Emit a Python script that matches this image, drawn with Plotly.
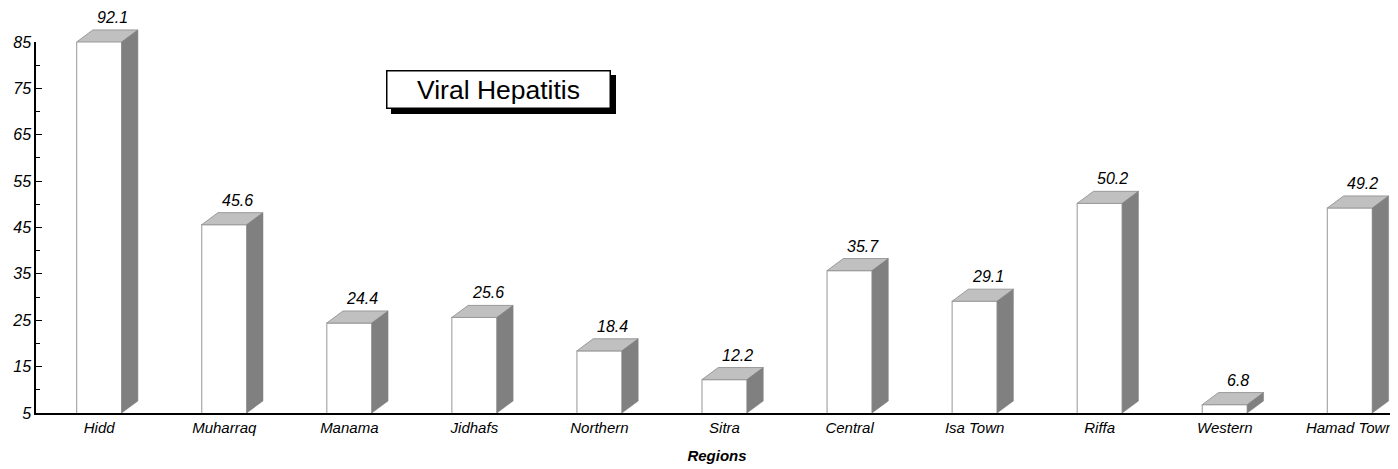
"""3D-style bar chart: viral hepatitis rates by region."""

import plotly.graph_objects as go

REGIONS = [
    "Hidd", "Muharraq", "Manama", "Jidhafs", "Northern", "Sitra",
    "Central", "Isa Town", "Riffa", "Western", "Hamad Town",
]
RATES = [92.1, 45.6, 24.4, 25.6, 18.4, 12.2, 35.7, 29.1, 50.2, 6.8, 49.2]
Y_MIN, Y_MAX = 5, 85
Y_TICKS = list(range(5, 86, 10))

# geometry of the fake 3D boxes (data units)
BAR_W = 0.36
DEPTH_X = 0.13
DEPTH_Y = 2.6

# the page body has an 8px margin, so the figure is a bit smaller than the window
W, H = 1390, 461
M_L, M_R, M_T, M_B = 28, 0, 0, 56
AXIS_TOP_PX = 34  # where the visible y axis stops (figure px from top)

plot_h = H - M_T - M_B
y_frac = (H - M_B - AXIS_TOP_PX) / plot_h
# invisible full-height axis with the same scale, so the box tops can rise above 85
y2_max = Y_MIN + (Y_MAX - Y_MIN) / y_frac

FONT = "Liberation Sans, Arial, sans-serif"
idx = list(range(len(REGIONS)))
tops = [min(v, Y_MAX) for v in RATES]

fig = go.Figure()

fig.add_trace(
    go.Bar(
        x=idx,
        y=RATES,
        width=BAR_W,
        marker=dict(color="white", line=dict(color="#a8a8a8", width=1.2)),
        hoverinfo="skip",
        showlegend=False,
    )
)
fig.add_trace(
    go.Scatter(
        x=idx, y=tops, yaxis="y2", mode="markers",
        marker=dict(opacity=0), hoverinfo="skip", showlegend=False,
    )
)

for i, (v, h) in enumerate(zip(RATES, tops)):
    xl, xr = i - BAR_W / 2, i + BAR_W / 2
    # top face
    fig.add_shape(
        type="path", xref="x", yref="y2",
        path=(f"M {xl},{h} L {xl + DEPTH_X},{h + DEPTH_Y} "
              f"L {xr + DEPTH_X},{h + DEPTH_Y} L {xr},{h} Z"),
        fillcolor="#c0c0c0", line=dict(color="#9a9a9a", width=1),
    )
    # side face
    fig.add_shape(
        type="path", xref="x", yref="y2",
        path=(f"M {xr},{Y_MIN} L {xr + DEPTH_X},{Y_MIN + DEPTH_Y} "
              f"L {xr + DEPTH_X},{h + DEPTH_Y} L {xr},{h} Z"),
        fillcolor="#808080", line=dict(color="#808080", width=0.5),
    )
    fig.add_annotation(
        x=i + DEPTH_X / 2, y=h + DEPTH_Y, xref="x", yref="y2",
        text=f"{v:.1f}", showarrow=False, yanchor="bottom",
        xshift=5, yshift=2,
        font=dict(family=FONT, size=16, color="black", style="italic"),
    )

# title box with drop shadow
title_x, title_y = 0.3396, 0.7988
for shadow in (True, False):
    fig.add_annotation(
        x=title_x, y=title_y, xref="paper", yref="paper",
        xanchor="center", yanchor="middle",
        text="Viral Hepatitis", showarrow=False,
        width=220, height=34, borderpad=1, borderwidth=1.5,
        bordercolor="black",
        bgcolor="black" if shadow else "white",
        xshift=5 if shadow else 0, yshift=-5 if shadow else 0,
        font=dict(family=FONT, size=26.5, color="black"),
    )

fig.update_layout(
    width=W, height=H,
    margin=dict(l=M_L, r=M_R, t=M_T, b=M_B, autoexpand=False),
    paper_bgcolor="white", plot_bgcolor="rgba(0,0,0,0)",
    showlegend=False, hovermode=False,
    xaxis=dict(
        range=[-0.505, 10.385], automargin=False,
        tickvals=idx, ticktext=REGIONS,
        tickfont=dict(family=FONT, size=15, color="black", style="italic"),
        showline=True, linecolor="black", linewidth=1.5,
        showgrid=False, zeroline=False, ticks="",
        title=dict(
            text="Regions", standoff=16,
            font=dict(family=FONT, size=15, color="black",
                      style="italic", weight="bold"),
        ),
    ),
    yaxis=dict(
        domain=[0, y_frac], range=[Y_MIN, Y_MAX], automargin=False,
        tickvals=Y_TICKS, ticks="inside", ticklen=6, tickwidth=1,
        tickcolor="black",
        minor=dict(ticks="inside", ticklen=4, tick0=0, dtick=10,
                   tickcolor="black"),
        tickfont=dict(family=FONT, size=16, color="black", style="italic"),
        showline=True, linecolor="black", linewidth=1.5,
        showgrid=False, zeroline=False, anchor="x",
    ),
    yaxis2=dict(
        domain=[0, 1], range=[Y_MIN, y2_max], anchor="x", automargin=False,
        visible=False, showgrid=False, zeroline=False,
    ),
)

fig.write_html("out.html")
